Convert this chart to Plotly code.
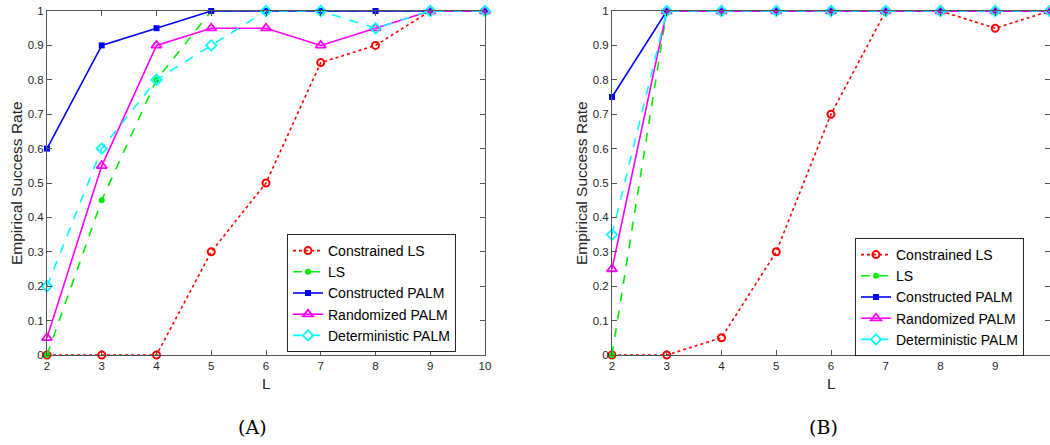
import plotly.graph_objects as go

L = [2, 3, 4, 5, 6, 7, 8, 9, 10]
series_names = ["Constrained LS", "LS", "Constructed PALM", "Randomized PALM", "Deterministic PALM"]

a_constrained_ls = [0, 0, 0, 0.3, 0.5, 0.85, 0.9, 1, 1]
a_ls = [0, 0.45, 0.8, 1, 1, 1, 1, 1, 1]
a_constructed = [0.6, 0.9, 0.95, 1, 1, 1, 1, 1, 1]
a_randomized = [0.05, 0.55, 0.9, 0.95, 0.95, 0.9, 0.95, 1, 1]
a_deterministic = [0.2, 0.6, 0.8, 0.9, 1, 1, 0.95, 1, 1]

b_constrained_ls = [0, 0, 0.05, 0.3, 0.7, 1, 1, 0.95, 1]
b_ls = [0, 1, 1, 1, 1, 1, 1, 1, 1]
b_constructed = [0.75, 1, 1, 1, 1, 1, 1, 1, 1]
b_randomized = [0.25, 1, 1, 1, 1, 1, 1, 1, 1]
b_deterministic = [0.35, 1, 1, 1, 1, 1, 1, 1, 1]

y_ticks = [0, 0.1, 0.2, 0.3, 0.4, 0.5, 0.6, 0.7, 0.8, 0.9, 1]
y_tick_text = ["0", "0.1", "0.2", "0.3", "0.4", "0.5", "0.6", "0.7", "0.8", "0.9", "1"]

styles = [
    dict(line=dict(color="#ff0000", dash="dot", width=1.6),
         marker=dict(symbol="circle-open", size=7, color="#ff0000", line=dict(width=2))),
    dict(line=dict(color="#00ee00", dash="dash", width=1.6),
         marker=dict(symbol="circle", size=6, color="#00ee00")),
    dict(line=dict(color="#0000ff", dash="solid", width=1.6),
         marker=dict(symbol="square", size=6, color="#0000ff")),
    dict(line=dict(color="#ff00ff", dash="solid", width=1.6),
         marker=dict(symbol="triangle-up-open", size=9, color="#ff00ff", line=dict(width=1.8))),
    dict(line=dict(color="#00ffff", dash="dash", width=1.6),
         marker=dict(symbol="diamond-open", size=8, color="#00ffff", line=dict(width=1.8))),
]

fig = go.Figure()
panels = [
    ("x", "y", "legend", [a_constrained_ls, a_ls, a_constructed, a_randomized, a_deterministic]),
    ("x2", "y2", "legend2", [b_constrained_ls, b_ls, b_constructed, b_randomized, b_deterministic]),
]
for xa, ya, lg, data in panels:
    for name, vals, st in zip(series_names, data, styles):
        fig.add_trace(go.Scatter(x=L, y=vals, name=name, mode="lines+markers",
                                 xaxis=xa, yaxis=ya, legend=lg, cliponaxis=False, **st))

W, H = 1050, 445
top, bottom = 11, 355
ax_common = dict(showgrid=False, zeroline=False, showline=True, linecolor="#555555", linewidth=1,
                 mirror="allticks", ticks="inside", ticklen=5, tickcolor="#555555", automargin=False,
                 tickfont=dict(family="Liberation Sans, Arial", size=11.5, color="#262626"))
leg_common = dict(xanchor="left", yanchor="top", bgcolor="white",
                  bordercolor="#262626", borderwidth=1, tracegroupgap=0,
                  font=dict(family="Liberation Sans, Arial", size=14, color="black"))
fig.update_layout(
    template="none",
    width=W, height=H, margin=dict(l=0, r=0, t=0, b=0, autoexpand=False),
    paper_bgcolor="white", plot_bgcolor="white",
    xaxis=dict(domain=[47 / W, 485 / W], range=[2, 10], tickvals=L, anchor="y", **ax_common),
    yaxis=dict(domain=[1 - bottom / H, 1 - top / H], range=[0, 1], tickvals=y_ticks,
               ticktext=y_tick_text, anchor="x", **ax_common),
    xaxis2=dict(domain=[612 / W, 1.0], range=[2, 10], tickvals=L, anchor="y2", **ax_common),
    yaxis2=dict(domain=[1 - bottom / H, 1 - top / H], range=[0, 1], tickvals=y_ticks,
                ticktext=y_tick_text, anchor="x2", **ax_common),
    legend=dict(x=287 / W, y=1 - 234 / H, **leg_common),
    legend2=dict(x=855 / W, y=1 - 238 / H, **leg_common),
    showlegend=True,
)

lab_font = dict(family="Liberation Sans, Arial", size=15.5, color="#262626")
cap_font = dict(family="DejaVu Serif, Liberation Serif", size=19, color="black")
annots = [
    dict(text="Empirical Success Rate", x=17 / W, y=1 - 183 / H, textangle=-90, font=lab_font),
    dict(text="L", x=266 / W, y=1 - 383 / H, font=lab_font),
    dict(text="(A)", x=252 / W, y=1 - 427 / H, font=cap_font),
    dict(text="Empirical Success Rate", x=582 / W, y=1 - 183 / H, textangle=-90, font=lab_font),
    dict(text="L", x=831 / W, y=1 - 383 / H, font=lab_font),
    dict(text="(B)", x=823 / W, y=1 - 427 / H, font=cap_font),
]
for a in annots:
    fig.add_annotation(xref="paper", yref="paper", showarrow=False, xanchor="center", yanchor="middle", **a)

fig.write_html("out.html", config={"displayModeBar": False},
               post_script="document.body.style.margin='0';document.body.style.padding='0';"
                           "document.body.style.overflow='hidden';")
